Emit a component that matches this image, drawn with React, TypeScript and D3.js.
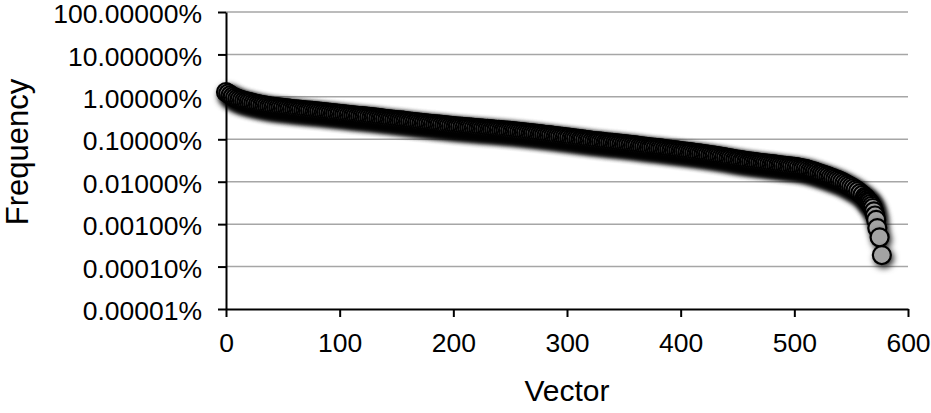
import React, { useRef, useEffect } from 'react';
import * as d3 from 'd3';

// vector index (x) and frequency in percent (y)
const vector = [
  0, 2, 4, 6, 8, 10, 12, 14, 16, 18, 20, 22, 24, 26, 28, 30, 32, 34, 36, 38,
  40, 42, 44, 46, 48, 50, 52, 54, 56, 58, 60, 62, 64, 66, 68, 70, 72, 74, 76, 78,
  80, 82, 84, 86, 88, 90, 92, 94, 96, 98, 100, 102, 104, 106, 108, 110, 112, 114,
  116, 118, 120, 122, 124, 126, 128, 130, 132, 134, 136, 138, 140, 142, 144, 146,
  148, 150, 152, 154, 156, 158, 160, 162, 164, 166, 168, 170, 172, 174, 176, 178,
  180, 182, 184, 186, 188, 190, 192, 194, 196, 198, 200, 202, 204, 206, 208, 210,
  212, 214, 216, 218, 220, 222, 224, 226, 228, 230, 232, 234, 236, 238, 240, 242,
  244, 246, 248, 250, 252, 254, 256, 258, 260, 262, 264, 266, 268, 270, 272, 274,
  276, 278, 280, 282, 284, 286, 288, 290, 292, 294, 296, 298, 300, 302, 304, 306,
  308, 310, 312, 314, 316, 318, 320, 322, 324, 326, 328, 330, 332, 334, 336, 338,
  340, 342, 344, 346, 348, 350, 352, 354, 356, 358, 360, 362, 364, 366, 368, 370,
  372, 374, 376, 378, 380, 382, 384, 386, 388, 390, 392, 394, 396, 398, 400, 402,
  404, 406, 408, 410, 412, 414, 416, 418, 420, 422, 424, 426, 428, 430, 432, 434,
  436, 438, 440, 442, 444, 446, 448, 450, 452, 454, 456, 458, 460, 462, 464, 466,
  468, 470, 472, 474, 476, 478, 480, 482, 484, 486, 488, 490, 492, 494, 496, 498,
  500, 502, 504, 506, 508, 510, 512, 514, 516, 518, 520, 522, 524, 526, 528, 530,
  532, 534, 536, 538, 540, 542, 544, 546, 548, 550, 552, 554, 556, 558, 560, 562,
  563, 564, 565, 566, 567, 568, 569, 570, 571, 572, 573, 575, 577,
];
const frequency = [
  1.3, 1.2, 1.1, 1.02, 0.96, 0.91, 0.87, 0.835, 0.805, 0.78, 0.76, 0.74, 0.71,
  0.695, 0.675, 0.66, 0.643, 0.628, 0.615, 0.6, 0.59, 0.58, 0.573, 0.566, 0.558,
  0.55, 0.542, 0.534, 0.526, 0.518, 0.51, 0.507, 0.502, 0.497, 0.489, 0.482,
  0.476, 0.472, 0.467, 0.461, 0.455, 0.449, 0.443, 0.437, 0.431, 0.425, 0.419,
  0.413, 0.408, 0.404, 0.4, 0.394, 0.388, 0.382, 0.377, 0.372, 0.367, 0.362,
  0.358, 0.354, 0.35, 0.346, 0.342, 0.338, 0.333, 0.328, 0.323, 0.318, 0.314,
  0.309, 0.305, 0.301, 0.297, 0.293, 0.289, 0.285, 0.281, 0.278, 0.274, 0.27,
  0.266, 0.262, 0.259, 0.255, 0.252, 0.248, 0.244, 0.242, 0.239, 0.235, 0.232,
  0.229, 0.226, 0.224, 0.221, 0.218, 0.215, 0.212, 0.21, 0.207, 0.205, 0.203,
  0.2, 0.198, 0.196, 0.194, 0.192, 0.19, 0.188, 0.186, 0.184, 0.182, 0.181,
  0.179, 0.177, 0.175, 0.173, 0.172, 0.17, 0.168, 0.166, 0.165, 0.163, 0.161,
  0.16, 0.158, 0.156, 0.154, 0.152, 0.15, 0.148, 0.146, 0.144, 0.142, 0.14,
  0.138, 0.136, 0.134, 0.132, 0.13, 0.128, 0.126, 0.125, 0.123, 0.121, 0.119,
  0.117, 0.116, 0.114, 0.112, 0.11, 0.109, 0.107, 0.105, 0.104, 0.102, 0.1,
  0.099, 0.097, 0.096, 0.094, 0.092, 0.091, 0.09, 0.089, 0.088, 0.087, 0.085,
  0.084, 0.083, 0.082, 0.081, 0.08, 0.079, 0.078, 0.077, 0.076, 0.075, 0.074,
  0.073, 0.072, 0.071, 0.069, 0.068, 0.067, 0.066, 0.065, 0.064, 0.064, 0.063,
  0.062, 0.061, 0.06, 0.059, 0.058, 0.057, 0.056, 0.0555, 0.055, 0.054, 0.053,
  0.052, 0.0515, 0.0505, 0.05, 0.049, 0.048, 0.0472, 0.0465, 0.0457, 0.045,
  0.0442, 0.0434, 0.0426, 0.0418, 0.041, 0.0402, 0.0394, 0.0386, 0.0378, 0.037,
  0.0362, 0.0354, 0.0346, 0.0338, 0.033, 0.0326, 0.032, 0.0316, 0.0308, 0.03,
  0.0296, 0.0292, 0.0288, 0.0284, 0.028, 0.0276, 0.0272, 0.0268, 0.0264, 0.026,
  0.0256, 0.0252, 0.0248, 0.0244, 0.024, 0.0236, 0.0232, 0.0229, 0.0227, 0.0224,
  0.022, 0.0215, 0.021, 0.0205, 0.02, 0.0193, 0.0186, 0.0179, 0.0172, 0.0165,
  0.0158, 0.0152, 0.0146, 0.0139, 0.0133, 0.0127, 0.0122, 0.0116, 0.011, 0.0105,
  0.0099, 0.0093, 0.0087, 0.0081, 0.0076, 0.0071, 0.0065, 0.006, 0.0054, 0.0049,
  0.0044, 0.0041, 0.0038, 0.0035, 0.0033, 0.003, 0.0027, 0.0024, 0.002, 0.0016,
  0.00126, 0.00081, 0.00049, 0.000187,
];

const yTicks = [100, 10, 1, 0.1, 0.01, 0.001, 0.0001, 0.00001];
const xTicks = [0, 100, 200, 300, 400, 500, 600];

const W = 931;
const H = 413;
const FONT = '"Liberation Sans", Arial, sans-serif';

export default function App() {
  const svgRef = useRef<SVGSVGElement | null>(null);

  useEffect(() => {
    const svg = d3.select(svgRef.current);
    svg.selectAll('*').remove();

    const x = d3.scaleLinear().domain([0, 600]).range([226, 908]);
    const y = d3.scaleLog().domain([0.00001, 100]).range([309, 12]);

    // marker shadow
    const defs = svg.append('defs');
    const f = defs.append('filter').attr('id', 'shadow')
      .attr('x', '-60%').attr('y', '-60%').attr('width', '220%').attr('height', '220%');
    f.append('feDropShadow')
      .attr('dx', 2).attr('dy', 3).attr('stdDeviation', 3)
      .attr('flood-color', '#000').attr('flood-opacity', 0.85);

    // gridlines
    svg.append('g')
      .selectAll('line')
      .data(yTicks.filter(d => d > 0.00001))
      .join('line')
      .attr('x1', 226).attr('x2', 908)
      .attr('y1', d => y(d)).attr('y2', d => y(d))
      .attr('stroke', '#a6a6a6').attr('stroke-width', 1.5);

    // y axis
    const yAxis = svg.append('g')
      .attr('transform', 'translate(226,0)')
      .call(d3.axisLeft(y).tickValues(yTicks).tickSize(8).tickSizeOuter(0).tickPadding(16)
        .tickFormat(d => (d as number).toFixed(5) + '%'));
    yAxis.selectAll('text').attr('font-family', FONT).attr('font-size', 26.5)
      .attr('fill', '#000').attr('dy', '0.4em');

    // x axis
    const xAxis = svg.append('g')
      .attr('transform', 'translate(0,309)')
      .call(d3.axisBottom(x).tickValues(xTicks).tickSize(8).tickSizeOuter(0).tickPadding(16));
    xAxis.selectAll('text').attr('font-family', FONT).attr('font-size', 26.5).attr('fill', '#000');

    [yAxis, xAxis].forEach(g => {
      g.selectAll('path, line').attr('stroke', '#000').attr('stroke-width', 2);
    });

    // points
    svg.append('g')
      .selectAll('circle')
      .data(vector.map((v, i) => [v, frequency[i]]))
      .join('circle')
      .attr('cx', d => x(d[0]))
      .attr('cy', d => y(d[1]))
      .attr('r', 9)
      .attr('fill', '#a3a3a3')
      .attr('stroke', '#000')
      .attr('stroke-width', 2.2)
      .attr('filter', 'url(#shadow)');

    // titles
    svg.append('text')
      .attr('x', 567).attr('y', 401)
      .attr('text-anchor', 'middle')
      .attr('font-family', FONT).attr('font-size', 30)
      .text('Vector');

    svg.append('text')
      .attr('transform', 'translate(28,152) rotate(-90)')
      .attr('text-anchor', 'middle')
      .attr('font-family', FONT).attr('font-size', 31)
      .text('Frequency');
  }, []);

  return (
    <svg ref={svgRef} width={W} height={H}
      style={{ position: 'absolute', left: 0, top: 0, background: '#fff' }} />
  );
}
